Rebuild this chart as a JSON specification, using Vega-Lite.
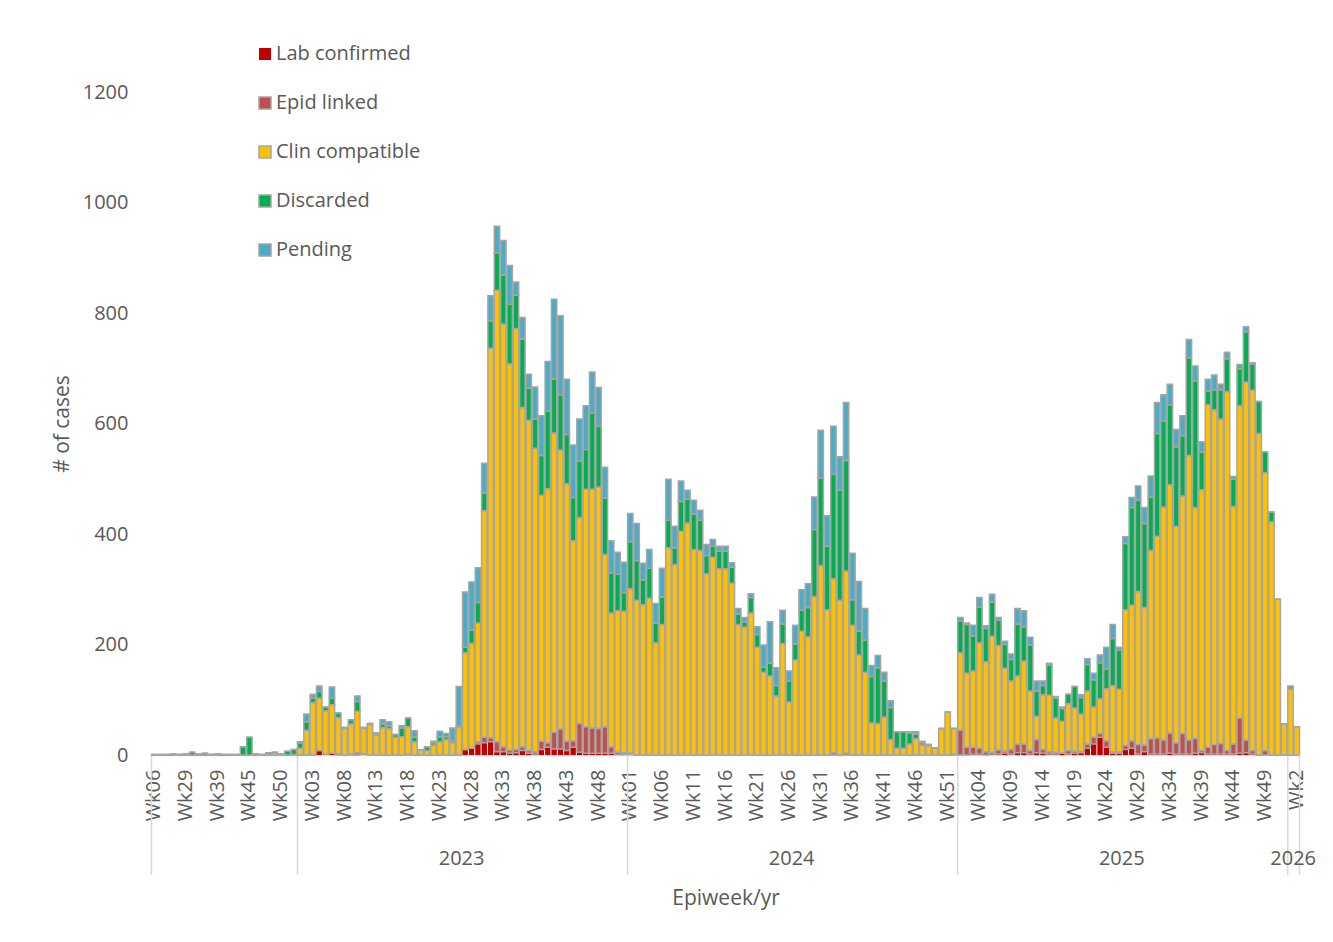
{
"$schema": "https://vega.github.io/schema/vega-lite/v6.json",
"autosize": {"type": "none"},
"padding": {"left": 151, "top": 92, "right": 33, "bottom": 187},
"width": 1149,
"height": 663,
"background": "white",
"config": {
  "view": {"stroke": null},
  "font": "Open Sans",
  "axis": {"grid": false, "labelColor": "#595959", "titleColor": "#595959", "titleFontWeight": "normal", "labelFontSize": 20, "titleFontSize": 21, "labelFont": "Open Sans", "titleFont": "Open Sans"},
  "legend": {"orient": "none", "legendX": 104, "legendY": -48, "padding": 0, "symbolType": "square", "symbolSize": 144, "symbolStrokeWidth": 1.5, "labelFontSize": 20, "labelColor": "#595959", "labelFont": "Open Sans", "rowPadding": 29, "labelOffset": 1}
},
"datasets": {
  "weeks": [
    {"w":"2022-Wk06","a_lab":0,"b_epid":0,"c_clin":0,"d_disc":1,"e_pend":0},
    {"w":"2022-Wk10","a_lab":0,"b_epid":0,"c_clin":0,"d_disc":1,"e_pend":0},
    {"w":"2022-Wk15","a_lab":0,"b_epid":0,"c_clin":0,"d_disc":1,"e_pend":0},
    {"w":"2022-Wk20","a_lab":0,"b_epid":0,"c_clin":0,"d_disc":2,"e_pend":0},
    {"w":"2022-Wk25","a_lab":0,"b_epid":0,"c_clin":0,"d_disc":1,"e_pend":0},
    {"w":"2022-Wk29","a_lab":0,"b_epid":0,"c_clin":0,"d_disc":2,"e_pend":0},
    {"w":"2022-Wk31","a_lab":0,"b_epid":0,"c_clin":0,"d_disc":5,"e_pend":0},
    {"w":"2022-Wk33","a_lab":0,"b_epid":0,"c_clin":0,"d_disc":2,"e_pend":0},
    {"w":"2022-Wk35","a_lab":0,"b_epid":0,"c_clin":0,"d_disc":3,"e_pend":0},
    {"w":"2022-Wk37","a_lab":0,"b_epid":0,"c_clin":0,"d_disc":1,"e_pend":0},
    {"w":"2022-Wk39","a_lab":0,"b_epid":0,"c_clin":0,"d_disc":2,"e_pend":0},
    {"w":"2022-Wk40","a_lab":0,"b_epid":0,"c_clin":0,"d_disc":1,"e_pend":0},
    {"w":"2022-Wk41","a_lab":0,"b_epid":0,"c_clin":0,"d_disc":1,"e_pend":0},
    {"w":"2022-Wk43","a_lab":0,"b_epid":0,"c_clin":0,"d_disc":1,"e_pend":0},
    {"w":"2022-Wk44","a_lab":0,"b_epid":0,"c_clin":0,"d_disc":15,"e_pend":0},
    {"w":"2022-Wk45","a_lab":0,"b_epid":0,"c_clin":0,"d_disc":32,"e_pend":0},
    {"w":"2022-Wk46","a_lab":0,"b_epid":0,"c_clin":0,"d_disc":2,"e_pend":0},
    {"w":"2022-Wk47","a_lab":0,"b_epid":0,"c_clin":0,"d_disc":1,"e_pend":0},
    {"w":"2022-Wk48","a_lab":0,"b_epid":0,"c_clin":1,"d_disc":3,"e_pend":0},
    {"w":"2022-Wk49","a_lab":0,"b_epid":0,"c_clin":4,"d_disc":1,"e_pend":0},
    {"w":"2022-Wk50","a_lab":0,"b_epid":0,"c_clin":0,"d_disc":2,"e_pend":0},
    {"w":"2022-Wk51","a_lab":0,"b_epid":0,"c_clin":0,"d_disc":7,"e_pend":0},
    {"w":"2022-Wk52","a_lab":0,"b_epid":0,"c_clin":1,"d_disc":9,"e_pend":0},
    {"w":"2023-Wk01","a_lab":0,"b_epid":0,"c_clin":12,"d_disc":10,"e_pend":2},
    {"w":"2023-Wk02","a_lab":0,"b_epid":0,"c_clin":45,"d_disc":15,"e_pend":14},
    {"w":"2023-Wk03","a_lab":0,"b_epid":0,"c_clin":95,"d_disc":8,"e_pend":7},
    {"w":"2023-Wk04","a_lab":8,"b_epid":0,"c_clin":95,"d_disc":12,"e_pend":10},
    {"w":"2023-Wk05","a_lab":2,"b_epid":0,"c_clin":78,"d_disc":7,"e_pend":0},
    {"w":"2023-Wk06","a_lab":3,"b_epid":0,"c_clin":88,"d_disc":12,"e_pend":20},
    {"w":"2023-Wk07","a_lab":0,"b_epid":2,"c_clin":66,"d_disc":8,"e_pend":0},
    {"w":"2023-Wk08","a_lab":0,"b_epid":0,"c_clin":48,"d_disc":2,"e_pend":0},
    {"w":"2023-Wk09","a_lab":0,"b_epid":2,"c_clin":54,"d_disc":8,"e_pend":0},
    {"w":"2023-Wk10","a_lab":0,"b_epid":4,"c_clin":75,"d_disc":18,"e_pend":10},
    {"w":"2023-Wk11","a_lab":2,"b_epid":0,"c_clin":46,"d_disc":2,"e_pend":0},
    {"w":"2023-Wk12","a_lab":0,"b_epid":0,"c_clin":55,"d_disc":2,"e_pend":0},
    {"w":"2023-Wk13","a_lab":0,"b_epid":0,"c_clin":36,"d_disc":3,"e_pend":1},
    {"w":"2023-Wk14","a_lab":0,"b_epid":0,"c_clin":50,"d_disc":6,"e_pend":8},
    {"w":"2023-Wk15","a_lab":0,"b_epid":0,"c_clin":48,"d_disc":5,"e_pend":7},
    {"w":"2023-Wk16","a_lab":0,"b_epid":0,"c_clin":32,"d_disc":5,"e_pend":0},
    {"w":"2023-Wk17","a_lab":0,"b_epid":0,"c_clin":33,"d_disc":16,"e_pend":4},
    {"w":"2023-Wk18","a_lab":0,"b_epid":2,"c_clin":49,"d_disc":16,"e_pend":0},
    {"w":"2023-Wk19","a_lab":0,"b_epid":0,"c_clin":24,"d_disc":8,"e_pend":12},
    {"w":"2023-Wk20","a_lab":0,"b_epid":0,"c_clin":9,"d_disc":0,"e_pend":0},
    {"w":"2023-Wk21","a_lab":0,"b_epid":0,"c_clin":8,"d_disc":7,"e_pend":0},
    {"w":"2023-Wk22","a_lab":0,"b_epid":0,"c_clin":18,"d_disc":4,"e_pend":3},
    {"w":"2023-Wk23","a_lab":0,"b_epid":0,"c_clin":24,"d_disc":8,"e_pend":11},
    {"w":"2023-Wk24","a_lab":0,"b_epid":0,"c_clin":28,"d_disc":5,"e_pend":6},
    {"w":"2023-Wk25","a_lab":0,"b_epid":0,"c_clin":22,"d_disc":4,"e_pend":23},
    {"w":"2023-Wk26","a_lab":0,"b_epid":0,"c_clin":50,"d_disc":2,"e_pend":72},
    {"w":"2023-Wk27","a_lab":10,"b_epid":0,"c_clin":175,"d_disc":10,"e_pend":100},
    {"w":"2023-Wk28","a_lab":12,"b_epid":0,"c_clin":190,"d_disc":24,"e_pend":87},
    {"w":"2023-Wk29","a_lab":20,"b_epid":4,"c_clin":215,"d_disc":37,"e_pend":63},
    {"w":"2023-Wk30","a_lab":22,"b_epid":10,"c_clin":410,"d_disc":32,"e_pend":54},
    {"w":"2023-Wk31","a_lab":24,"b_epid":7,"c_clin":705,"d_disc":50,"e_pend":45},
    {"w":"2023-Wk32","a_lab":6,"b_epid":18,"c_clin":817,"d_disc":68,"e_pend":48},
    {"w":"2023-Wk33","a_lab":6,"b_epid":9,"c_clin":765,"d_disc":89,"e_pend":62},
    {"w":"2023-Wk34","a_lab":3,"b_epid":6,"c_clin":699,"d_disc":108,"e_pend":70},
    {"w":"2023-Wk35","a_lab":4,"b_epid":6,"c_clin":762,"d_disc":60,"e_pend":24},
    {"w":"2023-Wk36","a_lab":8,"b_epid":7,"c_clin":614,"d_disc":124,"e_pend":39},
    {"w":"2023-Wk37","a_lab":3,"b_epid":5,"c_clin":598,"d_disc":58,"e_pend":25},
    {"w":"2023-Wk38","a_lab":2,"b_epid":4,"c_clin":549,"d_disc":53,"e_pend":58},
    {"w":"2023-Wk39","a_lab":10,"b_epid":15,"c_clin":445,"d_disc":72,"e_pend":72},
    {"w":"2023-Wk40","a_lab":14,"b_epid":8,"c_clin":460,"d_disc":140,"e_pend":90},
    {"w":"2023-Wk41","a_lab":11,"b_epid":30,"c_clin":542,"d_disc":98,"e_pend":144},
    {"w":"2023-Wk42","a_lab":11,"b_epid":36,"c_clin":505,"d_disc":100,"e_pend":143},
    {"w":"2023-Wk43","a_lab":8,"b_epid":17,"c_clin":466,"d_disc":89,"e_pend":100},
    {"w":"2023-Wk44","a_lab":14,"b_epid":12,"c_clin":362,"d_disc":78,"e_pend":95},
    {"w":"2023-Wk45","a_lab":5,"b_epid":52,"c_clin":373,"d_disc":102,"e_pend":76},
    {"w":"2023-Wk46","a_lab":3,"b_epid":48,"c_clin":430,"d_disc":72,"e_pend":79},
    {"w":"2023-Wk47","a_lab":3,"b_epid":46,"c_clin":432,"d_disc":138,"e_pend":74},
    {"w":"2023-Wk48","a_lab":3,"b_epid":45,"c_clin":437,"d_disc":110,"e_pend":70},
    {"w":"2023-Wk49","a_lab":3,"b_epid":48,"c_clin":312,"d_disc":102,"e_pend":56},
    {"w":"2023-Wk50","a_lab":3,"b_epid":12,"c_clin":242,"d_disc":72,"e_pend":59},
    {"w":"2023-Wk51","a_lab":1,"b_epid":4,"c_clin":256,"d_disc":66,"e_pend":40},
    {"w":"2023-Wk52","a_lab":1,"b_epid":3,"c_clin":256,"d_disc":34,"e_pend":55},
    {"w":"2024-Wk01","a_lab":1,"b_epid":2,"c_clin":298,"d_disc":85,"e_pend":51},
    {"w":"2024-Wk02","a_lab":0,"b_epid":0,"c_clin":280,"d_disc":72,"e_pend":67},
    {"w":"2024-Wk03","a_lab":0,"b_epid":0,"c_clin":272,"d_disc":45,"e_pend":30},
    {"w":"2024-Wk04","a_lab":0,"b_epid":0,"c_clin":284,"d_disc":54,"e_pend":34},
    {"w":"2024-Wk05","a_lab":0,"b_epid":0,"c_clin":203,"d_disc":36,"e_pend":35},
    {"w":"2024-Wk06","a_lab":0,"b_epid":0,"c_clin":236,"d_disc":50,"e_pend":52},
    {"w":"2024-Wk07","a_lab":0,"b_epid":0,"c_clin":375,"d_disc":50,"e_pend":74},
    {"w":"2024-Wk08","a_lab":0,"b_epid":0,"c_clin":345,"d_disc":30,"e_pend":39},
    {"w":"2024-Wk09","a_lab":0,"b_epid":0,"c_clin":405,"d_disc":54,"e_pend":37},
    {"w":"2024-Wk10","a_lab":0,"b_epid":0,"c_clin":420,"d_disc":43,"e_pend":16},
    {"w":"2024-Wk11","a_lab":0,"b_epid":0,"c_clin":372,"d_disc":64,"e_pend":25},
    {"w":"2024-Wk12","a_lab":0,"b_epid":0,"c_clin":370,"d_disc":55,"e_pend":18},
    {"w":"2024-Wk13","a_lab":0,"b_epid":0,"c_clin":328,"d_disc":33,"e_pend":20},
    {"w":"2024-Wk14","a_lab":0,"b_epid":0,"c_clin":358,"d_disc":20,"e_pend":12},
    {"w":"2024-Wk15","a_lab":0,"b_epid":0,"c_clin":337,"d_disc":32,"e_pend":9},
    {"w":"2024-Wk16","a_lab":0,"b_epid":0,"c_clin":337,"d_disc":32,"e_pend":9},
    {"w":"2024-Wk17","a_lab":0,"b_epid":0,"c_clin":311,"d_disc":29,"e_pend":8},
    {"w":"2024-Wk18","a_lab":0,"b_epid":0,"c_clin":236,"d_disc":19,"e_pend":10},
    {"w":"2024-Wk19","a_lab":0,"b_epid":0,"c_clin":231,"d_disc":10,"e_pend":8},
    {"w":"2024-Wk20","a_lab":0,"b_epid":0,"c_clin":257,"d_disc":28,"e_pend":7},
    {"w":"2024-Wk21","a_lab":0,"b_epid":0,"c_clin":195,"d_disc":23,"e_pend":14},
    {"w":"2024-Wk22","a_lab":0,"b_epid":0,"c_clin":150,"d_disc":9,"e_pend":40},
    {"w":"2024-Wk23","a_lab":0,"b_epid":0,"c_clin":143,"d_disc":23,"e_pend":75},
    {"w":"2024-Wk24","a_lab":0,"b_epid":0,"c_clin":107,"d_disc":19,"e_pend":32},
    {"w":"2024-Wk25","a_lab":0,"b_epid":0,"c_clin":202,"d_disc":35,"e_pend":25},
    {"w":"2024-Wk26","a_lab":0,"b_epid":0,"c_clin":96,"d_disc":38,"e_pend":18},
    {"w":"2024-Wk27","a_lab":0,"b_epid":0,"c_clin":172,"d_disc":29,"e_pend":34},
    {"w":"2024-Wk28","a_lab":0,"b_epid":0,"c_clin":224,"d_disc":38,"e_pend":37},
    {"w":"2024-Wk29","a_lab":0,"b_epid":0,"c_clin":214,"d_disc":53,"e_pend":43},
    {"w":"2024-Wk30","a_lab":0,"b_epid":0,"c_clin":287,"d_disc":121,"e_pend":59},
    {"w":"2024-Wk31","a_lab":0,"b_epid":0,"c_clin":343,"d_disc":158,"e_pend":87},
    {"w":"2024-Wk32","a_lab":0,"b_epid":0,"c_clin":263,"d_disc":115,"e_pend":55},
    {"w":"2024-Wk33","a_lab":0,"b_epid":4,"c_clin":315,"d_disc":189,"e_pend":87},
    {"w":"2024-Wk34","a_lab":0,"b_epid":0,"c_clin":280,"d_disc":200,"e_pend":60},
    {"w":"2024-Wk35","a_lab":0,"b_epid":3,"c_clin":330,"d_disc":200,"e_pend":105},
    {"w":"2024-Wk36","a_lab":0,"b_epid":0,"c_clin":235,"d_disc":46,"e_pend":84},
    {"w":"2024-Wk37","a_lab":0,"b_epid":0,"c_clin":181,"d_disc":43,"e_pend":90},
    {"w":"2024-Wk38","a_lab":0,"b_epid":0,"c_clin":150,"d_disc":58,"e_pend":57},
    {"w":"2024-Wk39","a_lab":0,"b_epid":0,"c_clin":58,"d_disc":84,"e_pend":20},
    {"w":"2024-Wk40","a_lab":0,"b_epid":0,"c_clin":57,"d_disc":101,"e_pend":22},
    {"w":"2024-Wk41","a_lab":0,"b_epid":0,"c_clin":69,"d_disc":65,"e_pend":16},
    {"w":"2024-Wk42","a_lab":0,"b_epid":0,"c_clin":28,"d_disc":58,"e_pend":12},
    {"w":"2024-Wk43","a_lab":0,"b_epid":0,"c_clin":12,"d_disc":30,"e_pend":0},
    {"w":"2024-Wk44","a_lab":0,"b_epid":0,"c_clin":12,"d_disc":30,"e_pend":0},
    {"w":"2024-Wk45","a_lab":0,"b_epid":0,"c_clin":20,"d_disc":20,"e_pend":2},
    {"w":"2024-Wk46","a_lab":0,"b_epid":0,"c_clin":30,"d_disc":8,"e_pend":4},
    {"w":"2024-Wk47","a_lab":0,"b_epid":0,"c_clin":18,"d_disc":4,"e_pend":3},
    {"w":"2024-Wk48","a_lab":0,"b_epid":0,"c_clin":17,"d_disc":2,"e_pend":0},
    {"w":"2024-Wk49","a_lab":0,"b_epid":0,"c_clin":13,"d_disc":0,"e_pend":0},
    {"w":"2024-Wk50","a_lab":0,"b_epid":0,"c_clin":48,"d_disc":0,"e_pend":0},
    {"w":"2024-Wk51","a_lab":0,"b_epid":0,"c_clin":78,"d_disc":0,"e_pend":0},
    {"w":"2024-Wk52","a_lab":0,"b_epid":2,"c_clin":46,"d_disc":0,"e_pend":0},
    {"w":"2025-Wk01","a_lab":0,"b_epid":45,"c_clin":140,"d_disc":58,"e_pend":6},
    {"w":"2025-Wk02","a_lab":0,"b_epid":14,"c_clin":134,"d_disc":88,"e_pend":3},
    {"w":"2025-Wk03","a_lab":2,"b_epid":12,"c_clin":138,"d_disc":64,"e_pend":19},
    {"w":"2025-Wk04","a_lab":2,"b_epid":10,"c_clin":191,"d_disc":65,"e_pend":17},
    {"w":"2025-Wk05","a_lab":0,"b_epid":6,"c_clin":163,"d_disc":60,"e_pend":5},
    {"w":"2025-Wk06","a_lab":2,"b_epid":3,"c_clin":210,"d_disc":62,"e_pend":14},
    {"w":"2025-Wk07","a_lab":2,"b_epid":7,"c_clin":189,"d_disc":46,"e_pend":5},
    {"w":"2025-Wk08","a_lab":3,"b_epid":4,"c_clin":150,"d_disc":43,"e_pend":6},
    {"w":"2025-Wk09","a_lab":2,"b_epid":8,"c_clin":124,"d_disc":39,"e_pend":10},
    {"w":"2025-Wk10","a_lab":4,"b_epid":16,"c_clin":123,"d_disc":94,"e_pend":28},
    {"w":"2025-Wk11","a_lab":4,"b_epid":16,"c_clin":150,"d_disc":62,"e_pend":29},
    {"w":"2025-Wk12","a_lab":2,"b_epid":6,"c_clin":108,"d_disc":83,"e_pend":14},
    {"w":"2025-Wk13","a_lab":4,"b_epid":24,"c_clin":42,"d_disc":46,"e_pend":18},
    {"w":"2025-Wk14","a_lab":3,"b_epid":7,"c_clin":99,"d_disc":17,"e_pend":8},
    {"w":"2025-Wk15","a_lab":2,"b_epid":4,"c_clin":102,"d_disc":55,"e_pend":3},
    {"w":"2025-Wk16","a_lab":2,"b_epid":3,"c_clin":62,"d_disc":36,"e_pend":3},
    {"w":"2025-Wk17","a_lab":3,"b_epid":0,"c_clin":58,"d_disc":23,"e_pend":3},
    {"w":"2025-Wk18","a_lab":2,"b_epid":6,"c_clin":85,"d_disc":17,"e_pend":0},
    {"w":"2025-Wk19","a_lab":3,"b_epid":4,"c_clin":78,"d_disc":39,"e_pend":0},
    {"w":"2025-Wk20","a_lab":4,"b_epid":3,"c_clin":67,"d_disc":30,"e_pend":5},
    {"w":"2025-Wk21","a_lab":12,"b_epid":8,"c_clin":96,"d_disc":48,"e_pend":10},
    {"w":"2025-Wk22","a_lab":20,"b_epid":12,"c_clin":55,"d_disc":49,"e_pend":12},
    {"w":"2025-Wk23","a_lab":32,"b_epid":7,"c_clin":63,"d_disc":65,"e_pend":14},
    {"w":"2025-Wk24","a_lab":14,"b_epid":12,"c_clin":94,"d_disc":35,"e_pend":40},
    {"w":"2025-Wk25","a_lab":3,"b_epid":3,"c_clin":120,"d_disc":85,"e_pend":25},
    {"w":"2025-Wk26","a_lab":3,"b_epid":3,"c_clin":113,"d_disc":71,"e_pend":5},
    {"w":"2025-Wk27","a_lab":10,"b_epid":7,"c_clin":246,"d_disc":120,"e_pend":12},
    {"w":"2025-Wk28","a_lab":12,"b_epid":14,"c_clin":245,"d_disc":177,"e_pend":18},
    {"w":"2025-Wk29","a_lab":2,"b_epid":17,"c_clin":277,"d_disc":165,"e_pend":26},
    {"w":"2025-Wk30","a_lab":6,"b_epid":12,"c_clin":249,"d_disc":152,"e_pend":29},
    {"w":"2025-Wk31","a_lab":2,"b_epid":28,"c_clin":340,"d_disc":97,"e_pend":38},
    {"w":"2025-Wk32","a_lab":2,"b_epid":29,"c_clin":365,"d_disc":186,"e_pend":56},
    {"w":"2025-Wk33","a_lab":2,"b_epid":25,"c_clin":422,"d_disc":156,"e_pend":47},
    {"w":"2025-Wk34","a_lab":3,"b_epid":37,"c_clin":449,"d_disc":145,"e_pend":37},
    {"w":"2025-Wk35","a_lab":2,"b_epid":20,"c_clin":392,"d_disc":144,"e_pend":31},
    {"w":"2025-Wk36","a_lab":2,"b_epid":37,"c_clin":430,"d_disc":109,"e_pend":36},
    {"w":"2025-Wk37","a_lab":2,"b_epid":25,"c_clin":515,"d_disc":177,"e_pend":33},
    {"w":"2025-Wk38","a_lab":3,"b_epid":27,"c_clin":418,"d_disc":229,"e_pend":27},
    {"w":"2025-Wk39","a_lab":4,"b_epid":4,"c_clin":472,"d_disc":68,"e_pend":19},
    {"w":"2025-Wk40","a_lab":2,"b_epid":12,"c_clin":620,"d_disc":25,"e_pend":21},
    {"w":"2025-Wk41","a_lab":2,"b_epid":17,"c_clin":606,"d_disc":36,"e_pend":27},
    {"w":"2025-Wk42","a_lab":2,"b_epid":19,"c_clin":587,"d_disc":53,"e_pend":10},
    {"w":"2025-Wk43","a_lab":2,"b_epid":6,"c_clin":650,"d_disc":59,"e_pend":12},
    {"w":"2025-Wk44","a_lab":2,"b_epid":18,"c_clin":430,"d_disc":49,"e_pend":5},
    {"w":"2025-Wk45","a_lab":3,"b_epid":64,"c_clin":565,"d_disc":67,"e_pend":8},
    {"w":"2025-Wk46","a_lab":4,"b_epid":23,"c_clin":648,"d_disc":91,"e_pend":9},
    {"w":"2025-Wk47","a_lab":2,"b_epid":6,"c_clin":652,"d_disc":48,"e_pend":2},
    {"w":"2025-Wk48","a_lab":0,"b_epid":0,"c_clin":582,"d_disc":58,"e_pend":0},
    {"w":"2025-Wk49","a_lab":0,"b_epid":8,"c_clin":503,"d_disc":38,"e_pend":0},
    {"w":"2025-Wk50","a_lab":0,"b_epid":0,"c_clin":422,"d_disc":18,"e_pend":0},
    {"w":"2025-Wk51","a_lab":0,"b_epid":0,"c_clin":282,"d_disc":0,"e_pend":0},
    {"w":"2025-Wk52","a_lab":0,"b_epid":0,"c_clin":56,"d_disc":0,"e_pend":0},
    {"w":"2026-Wk1","a_lab":0,"b_epid":0,"c_clin":119,"d_disc":0,"e_pend":6},
    {"w":"2026-Wk2","a_lab":0,"b_epid":0,"c_clin":51,"d_disc":0,"e_pend":0}
  ],
  "years": [
    {"w":"2023-Wk26","t":"2023"},
    {"w":"2024-Wk26","t":"2024"},
    {"w":"2025-Wk26","t":"2025"},
    {"w":"2026-Wk1","t":"2026"}
  ],
  "seps": [
    {"w":"2022-Wk06"},
    {"w":"2023-Wk01"},
    {"w":"2024-Wk01"},
    {"w":"2025-Wk01"},
    {"w":"2026-Wk1"}
  ],
  "lastsep": [
    {"w":"2026-Wk2"}
  ]
},
"layer": [
  {
    "data": {"name": "seps"},
    "mark": {"type": "rule", "color": "#d9d9d9", "strokeWidth": 1.5},
    "encoding": {
      "x": {"field": "w", "type": "nominal", "bandPosition": 0, "title": "Epiweek/yr"},
      "y": {"datum": 0, "type": "quantitative", "title": "# of cases"},
      "y2": {"datum": -217}
    }
  },
  {
    "data": {"name": "weeks"},
    "transform": [{"fold": ["a_lab","b_epid","c_clin","d_disc","e_pend"], "as": ["s","v"]}],
    "mark": {"type": "bar", "strokeWidth": 1.5},
    "encoding": {
      "x": {"field": "w", "type": "nominal", "sort": null, "title": "Epiweek/yr",
            "scale": {"paddingInner": 0.15, "paddingOuter": 0.075},
            "axis": {"values": ["2022-Wk06","2022-Wk29","2022-Wk39","2022-Wk45","2022-Wk50","2023-Wk03","2023-Wk08","2023-Wk13","2023-Wk18","2023-Wk23","2023-Wk28","2023-Wk33","2023-Wk38","2023-Wk43","2023-Wk48","2024-Wk01","2024-Wk06","2024-Wk11","2024-Wk16","2024-Wk21","2024-Wk26","2024-Wk31","2024-Wk36","2024-Wk41","2024-Wk46","2024-Wk51","2025-Wk04","2025-Wk09","2025-Wk14","2025-Wk19","2025-Wk24","2025-Wk29","2025-Wk34","2025-Wk39","2025-Wk44","2025-Wk49","2026-Wk2"],
                     "labelExpr": "substring(datum.value, 5)", "labelAngle": -90, "labelPadding": 14, "ticks": false,
                     "domainColor": "#d9d9d9", "domainWidth": 1.5, "titlePadding": 67, "labelOverlap": false}},
      "y": {"field": "v", "type": "quantitative", "stack": "zero", "title": "# of cases",
            "scale": {"domain": [0, 1200], "nice": false},
            "axis": {"values": [0,200,400,600,800,1000,1200], "format": "d", "domain": false, "ticks": false, "labelPadding": 23, "titlePadding": 10}},
      "fill": {"field": "s", "type": "nominal",
               "scale": {"domain": ["a_lab","b_epid","c_clin","d_disc","e_pend"], "range": ["#C00000","#C0504D","#FFC000","#00B050","#4BACC6"]},
               "legend": {"title": null, "labelExpr": "datum.label == 'a_lab' ? 'Lab confirmed' : datum.label == 'b_epid' ? 'Epid linked' : datum.label == 'c_clin' ? 'Clin compatible' : datum.label == 'd_disc' ? 'Discarded' : 'Pending'"}},
      "stroke": {"field": "s", "type": "nominal",
               "scale": {"domain": ["a_lab","b_epid","c_clin","d_disc","e_pend"], "range": ["transparent","#A5A5A5","#A5A5A5","#A5A5A5","#A5A5A5"]},
               "legend": {"title": null, "labelExpr": "datum.label == 'a_lab' ? 'Lab confirmed' : datum.label == 'b_epid' ? 'Epid linked' : datum.label == 'c_clin' ? 'Clin compatible' : datum.label == 'd_disc' ? 'Discarded' : 'Pending'"}},
      "order": {"field": "s", "sort": "ascending"}
    }
  },
  {
    "data": {"name": "lastsep"},
    "mark": {"type": "rule", "color": "#d9d9d9", "strokeWidth": 1.5},
    "encoding": {
      "x": {"field": "w", "type": "nominal", "bandPosition": 1, "title": "Epiweek/yr"},
      "y": {"datum": 0, "type": "quantitative", "title": "# of cases"},
      "y2": {"datum": -217}
    }
  },
  {
    "data": {"name": "years"},
    "mark": {"type": "text", "fontSize": 20, "color": "#595959", "baseline": "middle", "align": "center", "font": "Open Sans"},
    "encoding": {
      "x": {"field": "w", "type": "nominal", "bandPosition": 1, "title": "Epiweek/yr"},
      "y": {"datum": -188, "type": "quantitative", "title": "# of cases"},
      "text": {"field": "t", "type": "nominal"}
    }
  }
]
}
